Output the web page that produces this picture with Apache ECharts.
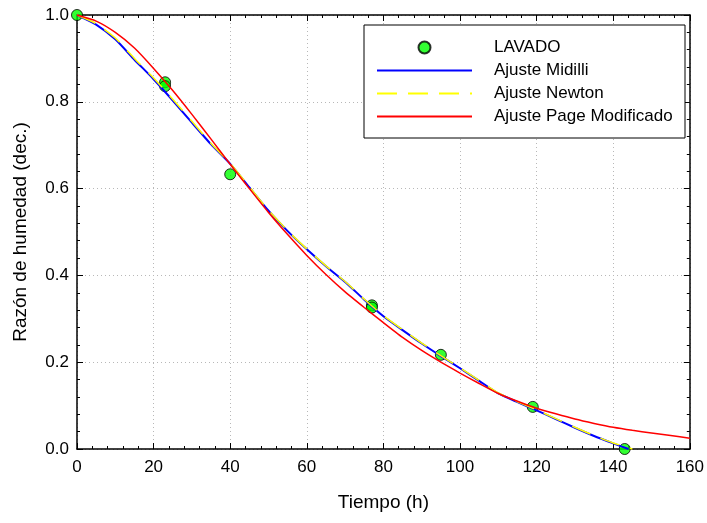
<!DOCTYPE html>
<html>
<head>
<meta charset="utf-8">
<script src="https://cdn.jsdelivr.net/npm/echarts@6/dist/echarts.min.js"></script>
<style>
html,body{margin:0;padding:0;background:#fff;}
#c{width:707px;height:523px;}
</style>
</head>
<body>
<div id="c"></div>
<script>
// Measured data (LAVADO)
const lavadoX = [0, 23, 23, 40, 77, 77, 95, 119, 143];
const lavadoY = [1.0, 0.845, 0.836, 0.633, 0.331, 0.326, 0.217, 0.097, 0.0];

// Ajuste Midilli
const midilliX = [0,5,10,15,20,25,30,35,40,45,50,55,60,65,70,75,80,85,90,95,100,105,110,115,120,125,130,135,140,144];
const midilliY = [1.000,0.978,0.944,0.897,0.852,0.803,0.752,0.702,0.657,0.603,0.549,0.502,0.460,0.421,0.385,0.344,0.306,0.274,0.243,0.214,0.186,0.157,0.128,0.108,0.089,0.069,0.049,0.030,0.013,0.000];

// Ajuste Newton
const newtonX = [0,5,10,15,20,25,30,35,40,45,50,55,60,65,70,75,80,85,90,95,100,105,110,115,120,125,130,135,140,145];
const newtonY = [1.000,0.980,0.947,0.900,0.855,0.806,0.755,0.704,0.658,0.604,0.550,0.503,0.461,0.422,0.386,0.345,0.307,0.275,0.244,0.215,0.187,0.158,0.129,0.109,0.090,0.070,0.050,0.031,0.014,0.000];

// Ajuste Page Modificado
const pageX = [0,5,10,15,20,25,30,35,40,45,50,55,60,65,70,75,80,85,90,95,100,105,110,115,120,125,130,135,140,145,150,155,160];
const pageY = [1.000,0.986,0.960,0.924,0.877,0.826,0.771,0.714,0.656,0.600,0.545,0.494,0.446,0.402,0.362,0.326,0.291,0.257,0.227,0.200,0.175,0.151,0.128,0.110,0.094,0.081,0.069,0.059,0.050,0.043,0.037,0.031,0.025];

const xTicks = [0,20,40,60,80,100,120,140,160];
const yTicks = [0.0,0.2,0.4,0.6,0.8,1.0];

const names = ['LAVADO','Ajuste Midilli','Ajuste Newton','Ajuste Page Modificado'];

function zip(xs, ys){ return xs.map((x,i)=>[x, ys[i]]); }

const FONT = '"Liberation Sans", Arial, sans-serif';

const chart = echarts.init(document.getElementById('c'), null, {renderer:'canvas'});

const baseAxisLine = {show:true, onZero:false, lineStyle:{color:'#000', width:1.5}};
const tickStyle = {show:true, inside:true, length:6, lineStyle:{color:'#000', width:1}};
const minorStyle = {show:true, splitNumber:5, length:3, lineStyle:{color:'#000', width:1}};
const hiddenSymbol = {color:'rgba(0,0,0,0)', borderWidth:0, opacity:0};

chart.setOption({
  backgroundColor:'#fff',
  animation:false,
  grid:{left:77, right:14, top:15, bottom:74, containLabel:false},
  xAxis:[{
    type:'value', min:0, max:160, interval:20, position:'bottom',
    name:'Tiempo (h)', nameLocation:'middle', nameGap:44,
    nameTextStyle:{fontFamily:FONT, fontSize:19, color:'#000'},
    axisLine:baseAxisLine, axisTick:tickStyle, minorTick:minorStyle,
    axisLabel:{fontFamily:FONT, fontSize:17, color:'#000', margin:10,
      formatter:function(v){ return xTicks.indexOf(v) >= 0 ? String(v) : ''; }},
    splitLine:{show:true, lineStyle:{color:'#b8b8b8', type:[1,3], width:1}}
  },{
    type:'value', min:0, max:160, interval:20, position:'top',
    axisLine:baseAxisLine, axisTick:tickStyle, minorTick:minorStyle,
    axisLabel:{show:false}, splitLine:{show:false}
  }],
  yAxis:[{
    type:'value', min:0, max:1, interval:0.2, position:'left',
    name:'Razón de humedad (dec.)', nameLocation:'middle', nameGap:47,
    nameTextStyle:{fontFamily:FONT, fontSize:19, color:'#000'},
    axisLine:baseAxisLine, axisTick:tickStyle, minorTick:minorStyle,
    axisLabel:{fontFamily:FONT, fontSize:17, color:'#000', margin:8,
      formatter:function(v){ return yTicks.some(t=>Math.abs(t-v)<1e-9) ? v.toFixed(1) : ''; }},
    splitLine:{show:true, lineStyle:{color:'#b8b8b8', type:[1,3], width:1}}
  },{
    type:'value', min:0, max:1, interval:0.2, position:'right',
    axisLine:baseAxisLine, axisTick:tickStyle, minorTick:minorStyle,
    axisLabel:{show:false}, splitLine:{show:false}
  }],
  graphic:[{
    type:'rect', z:3, shape:{x:364, y:25, width:321, height:113},
    style:{fill:'#fff', stroke:'#000', lineWidth:1}
  }],
  legend:{
    orient:'vertical', left:376, top:39, padding:0, z:5,
    itemWidth:95, itemHeight:12, itemGap:6,
    textStyle:{fontFamily:FONT, fontSize:17, color:'#000', padding:[0,0,0,17]},
    data:[
      {name:names[0]},
      {name:names[1], itemStyle:hiddenSymbol},
      {name:names[2], itemStyle:hiddenSymbol},
      {name:names[3], itemStyle:hiddenSymbol}
    ]
  },
  series:[{
    name:names[0], type:'scatter', data:zip(lavadoX, lavadoY),
    symbol:'circle', symbolSize:11, clip:false,
    itemStyle:{color:'#00ff00', borderColor:'#000', borderWidth:1}
  },{
    name:names[1], type:'line', data:zip(midilliX, midilliY),
    symbol:'none', smooth:0.2, clip:false,
    lineStyle:{color:'#0000ff', width:2}, itemStyle:{color:'#0000ff'}
  },{
    name:names[2], type:'line', data:zip(newtonX, newtonY),
    symbol:'none', smooth:0.2, clip:false,
    lineStyle:{color:'#ffff00', width:1.5, type:[20,11]}, itemStyle:{color:'#ffff00'}
  },{
    name:names[3], type:'line', data:zip(pageX, pageY),
    symbol:'none', smooth:0.2, clip:false,
    lineStyle:{color:'#ff0000', width:1.5}, itemStyle:{color:'#ff0000'}
  }]
});
</script>
</body>
</html>
